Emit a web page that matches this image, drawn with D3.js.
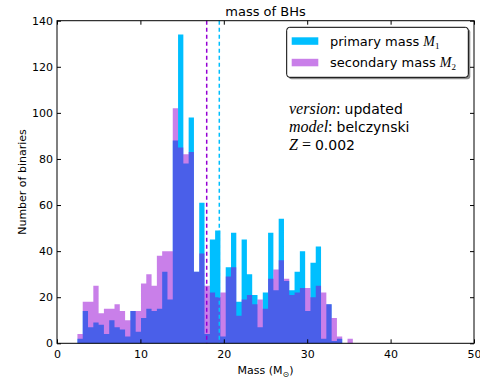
<!DOCTYPE html>
<html>
<head>
<meta charset="utf-8">
<style>
body { margin: 0; background: #fff; }
text { font-family: "DejaVu Sans", sans-serif; fill: #000; }
.axis text { font-size: 11px; }
.axis path { display: none; }
.axis line { stroke: #000; }
.math { font-family: "Liberation Serif", serif; font-style: italic; }
</style>
</head>
<body>
<svg width="480" height="383"></svg>
<script src="https://d3js.org/d3.v7.min.js"></script>
<script>

// histogram bins (shared by both series)
var binStart = 2.45,
  binWidth = 0.635;

var primaryCounts = [2, 14, 7, 9, 8, 4, 10, 7, 6, 3,
  14, 5, 11, 15, 14, 15, 31, 19, 88, 134,
  78, 98, 31, 61, 4, 45, 49, 3, 33, 48,
  18, 45, 30, 21, 7, 22, 48, 23, 54, 27,
  23, 31, 40, 14, 35, 42, 2, 17, 1, 2,
  0, 0];

var secondaryCounts = [4, 18, 18, 25, 13, 15, 15, 17, 14, 10,
  14, 14, 26, 30, 25, 38, 40, 40, 102, 85,
  82, 83, 31, 39, 25, 22, 20, 22, 29, 33,
  12, 19, 21, 17, 19, 15, 28, 32, 36, 28,
  21, 22, 24, 24, 20, 25, 22, 17, 11, 3,
  0, 2];

var meanPrimary = 19.46,
  meanSecondary = 17.95;

var xTicks = [0, 10, 20, 30, 40, 50],
  yTicks = [0, 20, 40, 60, 80, 100, 120, 140];

var primaryColor = "#00bfff",
  secondaryColor = "#9400d3";

var svg = d3.select("svg"),
  margin = {top: 20.7, right: 6, bottom: 39.7, left: 57},
  width = +svg.attr("width") - margin.left - margin.right,
  height = +svg.attr("height") - margin.top - margin.bottom,
  g = svg.append("g").attr("transform", "translate(" + margin.left + "," + margin.top + ")");

var x = d3.scaleLinear().domain([0, 50]).range([0, width]),
  y = d3.scaleLinear().domain([0, 140]).range([height, 0]);

function steps(counts) {
  var pts = counts.map(function(c, i) { return {m: binStart + i * binWidth, c: c}; });
  pts.push({m: binStart + counts.length * binWidth, c: counts[counts.length - 1]});
  return pts;
}

var area = d3.area()
  .curve(d3.curveStepAfter)
  .x(function(d) { return x(d.m); })
  .y0(y(0))
  .y1(function(d) { return y(d.c); });

g.append("path")
  .attr("d", area(steps(primaryCounts)))
  .style("fill", primaryColor);

g.append("path")
  .attr("d", area(steps(secondaryCounts)))
  .style("fill", secondaryColor)
  .style("fill-opacity", 0.5);

// mean lines
[[meanSecondary, secondaryColor], [meanPrimary, primaryColor]].forEach(function(m) {
  g.append("line")
    .attr("x1", x(m[0])).attr("x2", x(m[0]))
    .attr("y1", 0).attr("y2", height)
    .style("stroke", m[1])
    .style("stroke-width", 1.5)
    .style("stroke-dasharray", "4,3");
});

// axes, ticks inside on all four sides
g.append("g")
    .attr("class", "axis axis--x")
    .attr("transform", "translate(0," + height + ")")
    .call(d3.axisBottom(x).tickValues(xTicks).tickSizeInner(-4).tickSizeOuter(0).tickPadding(7));

g.append("g")
    .attr("class", "axis axis--y")
    .call(d3.axisLeft(y).tickValues(yTicks).tickSizeInner(-4).tickSizeOuter(0).tickPadding(4));

g.append("g")
    .attr("class", "axis")
    .call(d3.axisTop(x).tickValues(xTicks).tickSizeInner(-4).tickSizeOuter(0).tickFormat(""));

g.append("g")
    .attr("class", "axis")
    .attr("transform", "translate(" + width + ",0)")
    .call(d3.axisRight(y).tickValues(yTicks).tickSizeInner(-4).tickSizeOuter(0).tickFormat(""));

g.append("rect")
  .attr("width", width)
  .attr("height", height)
  .style("fill", "none")
  .style("stroke", "#000")
  .style("stroke-width", 1);

// titles
g.append("text")
  .attr("x", width / 2).attr("y", -5)
  .attr("text-anchor", "middle")
  .style("font-size", "13px")
  .text("mass of BHs");

var xl = g.append("text")
  .attr("x", width / 2).attr("y", height + 31)
  .attr("text-anchor", "middle")
  .style("font-size", "11px");
xl.append("tspan").text("Mass (M");
xl.append("tspan").attr("dy", 3).style("font-size", "8px").text("\u2299");
xl.append("tspan").attr("dy", -3).text(")");

g.append("text")
  .attr("transform", "translate(-31," + (height / 2) + ") rotate(-90)")
  .attr("text-anchor", "middle")
  .style("font-size", "11px")
  .text("Number of binaries");

// legend
var leg = svg.append("g").attr("transform", "translate(286.7,27.3)");
leg.append("rect")
  .attr("x", 2).attr("y", 2).attr("width", 181.6).attr("height", 50).attr("rx", 3)
  .style("fill", "#000").style("fill-opacity", 0.45);
leg.append("rect")
  .attr("width", 181.6).attr("height", 50).attr("rx", 3)
  .style("fill", "#fff").style("stroke", "#000").style("stroke-width", 1);

var legendItems = [
  {label: "primary mass ", sub: "1", color: primaryColor, op: 1},
  {label: "secondary mass ", sub: "2", color: secondaryColor, op: 0.5}
];

legendItems.forEach(function(d, i) {
  var yy = 10 + i * 21.5;
  leg.append("rect")
    .attr("x", 5).attr("y", yy).attr("width", 26.6).attr("height", 7.5)
    .style("fill", d.color).style("fill-opacity", d.op);
  var t = leg.append("text").attr("x", 43.3).attr("y", yy + 8.3).style("font-size", "13px");
  t.append("tspan").text(d.label);
  t.append("tspan").attr("class", "math").style("font-size", "14px").text("M");
  t.append("tspan").attr("dy", 3).style("font-family", "Liberation Serif").style("font-size", "9px").text(d.sub);
});

// annotation
var notes = [
  ["version", ": ", "updated"],
  ["model", ": ", "belczynski"],
  ["Z", " = ", "0.002"]
];
notes.forEach(function(n, i) {
  var t = svg.append("text").attr("x", 289).attr("y", 114.3 + i * 17.8).style("font-size", "14px");
  t.append("tspan").attr("class", "math").style("font-size", "16px").text(n[0]);
  t.append("tspan").style("font-family", "Liberation Serif").style("font-size", "16px").text(n[1]);
  t.append("tspan").text(n[2]);
});

</script>
</body>
</html>
